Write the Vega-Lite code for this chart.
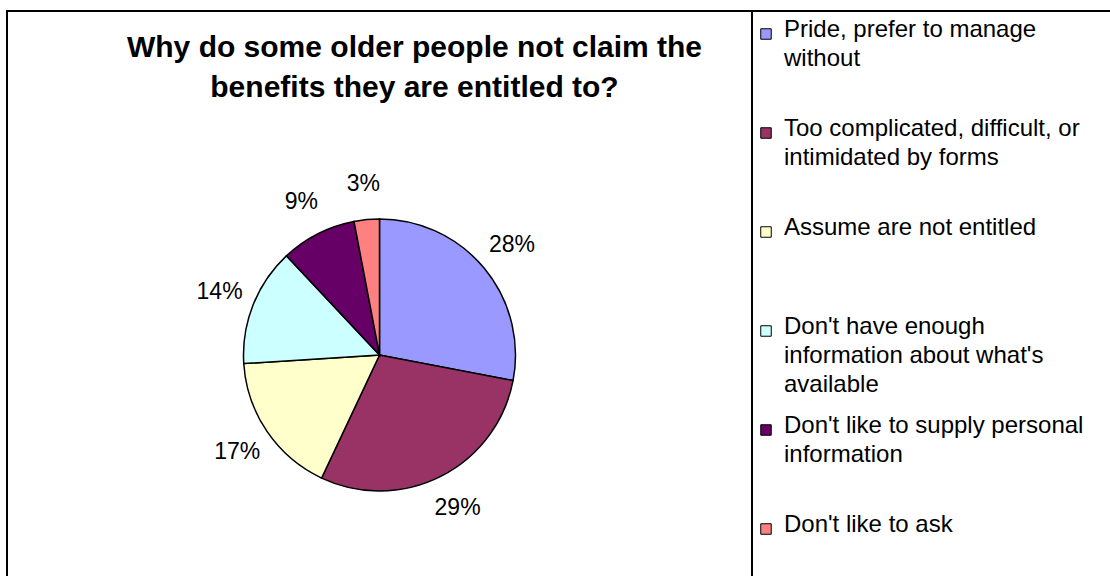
{
  "$schema": "https://vega.github.io/schema/vega-lite/v6.json",
  "padding": {"left": 7, "top": 10, "right": 0, "bottom": 0},
  "background": "white",
  "width": 745,
  "height": 688,
  "view": {"stroke": "black", "strokeWidth": 2},
  "config": {
    "view": {"stroke": "black", "strokeWidth": 2},
    "font": "Liberation Sans"
  },
  "title": {
    "text": ["Why do some older people not claim the", "benefits they are entitled to?"],
    "font": "Liberation Sans",
    "fontSize": 30,
    "fontWeight": "bold",
    "lineHeight": 40,
    "anchor": "middle",
    "baseline": "alphabetic",
    "offset": -117,
    "dx": 35,
    "color": "black"
  },
  "data": {
    "values": [
      {"rank": 1, "reason": "Pride, prefer to manage without", "value": 0.28},
      {"rank": 2, "reason": "Too complicated, difficult, or intimidated by forms", "value": 0.29},
      {"rank": 3, "reason": "Assume are not entitled", "value": 0.17},
      {"rank": 4, "reason": "Don't have enough information about what's available", "value": 0.14},
      {"rank": 5, "reason": "Don't like to supply personal information", "value": 0.09},
      {"rank": 6, "reason": "Don't like to ask", "value": 0.03}
    ]
  },
  "encoding": {
    "theta": {"field": "value", "type": "quantitative", "stack": true},
    "order": {"field": "rank", "type": "quantitative"},
    "color": {
      "field": "reason",
      "type": "nominal",
      "scale": {
        "domain": [
          "Pride, prefer to manage without",
          "Too complicated, difficult, or intimidated by forms",
          "Assume are not entitled",
          "Don't have enough information about what's available",
          "Don't like to supply personal information",
          "Don't like to ask"
        ],
        "range": ["#9999FF", "#993366", "#FFFFCC", "#CCFFFF", "#660066", "#FF8080"]
      },
      "legend": {
        "title": " ",
        "titleFontSize": 2,
        "titlePadding": 7,
        "orient": "none",
        "legendX": 745,
        "legendY": 0,
        "padding": 2,
        "strokeColor": "black",
        "symbolType": "square",
        "symbolSize": 110,
        "symbolStrokeColor": "black",
        "symbolStrokeWidth": 1,
        "labelFont": "Liberation Sans",
        "labelFontSize": 24,
        "labelColor": "black",
        "labelLimit": 800,
        "labelOffset": 6,
        "labelBaseline": "alphabetic",
        "gridAlign": "all",
        "rowPadding": 17,
        "labelExpr": "test(/^Pride/, datum.label) ? ['Pride, prefer to manage', 'without'] : test(/^Too/, datum.label) ? ['Too complicated, difficult, or\u2800\u2800\u2800\u2800', 'intimidated by forms'] : test(/have enough/, datum.label) ? [\"Don't have enough\", \"information about what's\", 'available'] : test(/supply/, datum.label) ? ['Don\\'t like to supply personal', 'information'] : [datum.label, '\u2800', '\u2800']",
        "encode": {
          "legend": {"update": {"strokeWidth": {"value": 2}}},
          "labels": {"update": {"lineHeight": {"value": 29}, "dy": {"value": 3}}}
        }
      }
    }
  },
  "layer": [
    {"mark": {"type": "arc", "outerRadius": 136, "stroke": "black", "strokeWidth": 1.5}},
    {
      "mark": {"type": "text", "radius": 172, "fontSize": 23, "font": "Liberation Sans"},
      "encoding": {
        "text": {"field": "value", "type": "quantitative", "format": ".0%"},
        "color": {"value": "black"},
        "detail": {"field": "reason", "type": "nominal"}
      }
    }
  ]
}
